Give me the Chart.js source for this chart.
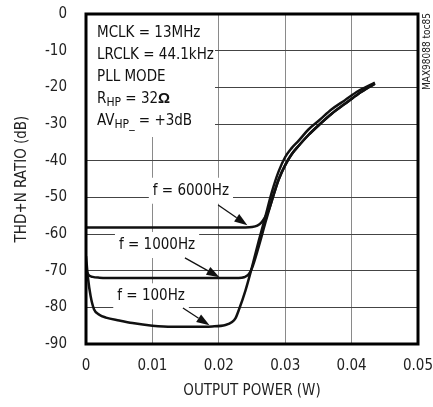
<!DOCTYPE html>
<html>
<head>
<meta charset="utf-8">
<script src="https://cdn.jsdelivr.net/npm/chart.js@4.4.1/dist/chart.umd.min.js"></script>
<style>
html, body { margin: 0; padding: 0; background: #fff; }
#wrap { width: 433px; height: 407px; }
</style>
</head>
<body>
<div id="wrap"><canvas id="chart" width="433" height="407"></canvas></div>
<script>
// THD+N RATIO vs OUTPUT POWER (MAX98088 toc85)

const FONT = '"DejaVu Sans Condensed", "Liberation Sans", sans-serif';

// axis ranges
const xRange = [0, 0.05];
const yRange = [-90, 0];
const xStep = 0.01;
const yStep = 10;

// f = 100Hz
const f100X = [0, 0.0003, 0.0007, 0.0012, 0.002, 0.003, 0.005, 0.007, 0.01, 0.013, 0.016, 0.019, 0.021, 0.022, 0.0225, 0.023, 0.024, 0.025, 0.026, 0.027, 0.028, 0.029, 0.030, 0.031, 0.032, 0.0335, 0.035, 0.037, 0.039, 0.041, 0.0435];
const f100Y = [-66, -72, -77, -80.5, -82, -82.8, -83.6, -84.3, -85, -85.3, -85.3, -85.2, -84.8, -84, -83, -80.8, -75.5, -69, -62, -55.3, -48.5, -43, -39, -36.5, -34.6, -31.5, -29.2, -26, -23.5, -21, -18.7];

// f = 1000Hz
const f1000X = [0, 0.0004, 0.001, 0.002, 0.005, 0.01, 0.015, 0.02, 0.023, 0.0238, 0.0245, 0.025, 0.026, 0.027, 0.028, 0.029, 0.030, 0.031, 0.032, 0.0335, 0.035, 0.037, 0.039, 0.041, 0.0435];
const f1000Y = [-69.8, -71.2, -71.7, -71.9, -72, -72, -72, -72, -72, -71.8, -71, -69.3, -63.5, -57, -50.8, -45.2, -41.2, -38.2, -36, -33, -30.4, -27.2, -24.5, -21.8, -19];

// f = 6000Hz
const f6000X = [0, 0.005, 0.01, 0.015, 0.02, 0.024, 0.025, 0.0258, 0.0264, 0.0269, 0.0275, 0.028, 0.029, 0.030, 0.031, 0.032, 0.0335, 0.035, 0.037, 0.039, 0.041, 0.0435];
const f6000Y = [-58.2, -58.2, -58.2, -58.2, -58.2, -58.2, -58.1, -57.7, -56.9, -55.6, -53.6, -50.8, -45.2, -41.2, -38.2, -36, -33, -30.4, -27.2, -24.5, -21.8, -19];

// curve labels: text, label centre, arrow tail, arrow head (data units)
const labelText = ['f = 6000Hz', 'f = 1000Hz', 'f = 100Hz'];
const labelAt = [[0.0158, -48.2], [0.0107, -63], [0.0098, -77]];
const arrowFrom = [[0.0199, -52.1], [0.0149, -66.5], [0.0146, -80.2]];
const arrowTo = [[0.0243, -57.6], [0.0201, -71.8], [0.0186, -84.9]];

// condition notes (segments: n = normal, s = subscript, b = bold)
const noteLines = [
    [['MCLK = 13MHz', 'n']],
    [['LRCLK = 44.1kHz', 'n']],
    [['PLL MODE', 'n']],
    [['R', 'n'], ['HP', 's'], [' = 32', 'n'], ['\u03A9', 'b']],
    [['AV', 'n'], ['HP_', 's'], [' = +3dB', 'n']]
];

function toPoints(xs, ys) {
    return xs.map((x, i) => ({ x: x, y: ys[i] }));
}

function drawArrow(ctx, x1, y1, x2, y2) {
    const ang = Math.atan2(y2 - y1, x2 - x1);
    const len = 13, half = 4.5;
    const bx = x2 - len * Math.cos(ang), by = y2 - len * Math.sin(ang);
    ctx.beginPath();
    ctx.moveTo(x1, y1);
    ctx.lineTo(bx, by);
    ctx.lineWidth = 1.3;
    ctx.stroke();
    ctx.beginPath();
    ctx.moveTo(x2, y2);
    ctx.lineTo(bx + half * Math.sin(ang), by - half * Math.cos(ang));
    ctx.lineTo(bx - half * Math.sin(ang), by + half * Math.cos(ang));
    ctx.closePath();
    ctx.fill();
}

const annotations = {
    id: 'annotations',
    beforeDatasetsDraw(chart) {
        const ctx = chart.ctx, a = chart.chartArea;
        const xs = chart.scales.x, ys = chart.scales.y;
        ctx.save();
        ctx.fillStyle = '#fff';
        // blank area behind the notes
        ctx.fillRect(a.left, a.top, 129, 123);
        // blank area behind curve labels
        ctx.font = '15px ' + FONT;
        labelText.forEach((t, i) => {
            const w = ctx.measureText(t).width;
            const cx = xs.getPixelForValue(labelAt[i][0]);
            const cy = ys.getPixelForValue(labelAt[i][1]);
            ctx.fillRect(cx - w / 2 - 4, cy - 13, w + 8, 26);
        });
        ctx.restore();
    },
    afterDatasetsDraw(chart) {
        const ctx = chart.ctx, a = chart.chartArea;
        const xs = chart.scales.x, ys = chart.scales.y;
        ctx.save();
        ctx.fillStyle = '#111';
        ctx.strokeStyle = '#111';
        ctx.textBaseline = 'middle';

        // notes
        noteLines.forEach((segs, i) => {
            let x = a.left + 11;
            const y = a.top + 19 + i * 22;
            segs.forEach(([t, kind]) => {
                let dy = 0;
                if (kind === 's') { ctx.font = '12px ' + FONT; dy = 4; }
                else if (kind === 'b') { ctx.font = 'bold 15px "Liberation Sans", sans-serif'; }
                else { ctx.font = '15px ' + FONT; }
                ctx.textAlign = 'left';
                ctx.fillText(t, x, y + dy);
                x += ctx.measureText(t).width;
            });
        });

        // curve labels + arrows
        ctx.font = '15px ' + FONT;
        ctx.textAlign = 'center';
        labelText.forEach((t, i) => {
            ctx.fillText(t, xs.getPixelForValue(labelAt[i][0]), ys.getPixelForValue(labelAt[i][1]));
            drawArrow(ctx,
                xs.getPixelForValue(arrowFrom[i][0]), ys.getPixelForValue(arrowFrom[i][1]),
                xs.getPixelForValue(arrowTo[i][0]), ys.getPixelForValue(arrowTo[i][1]));
        });

        // frame
        ctx.lineWidth = 3;
        ctx.strokeStyle = '#000';
        ctx.strokeRect(a.left, a.top, a.right - a.left, a.bottom - a.top);

        // figure id on the right
        ctx.translate(chart.width - 6, a.top - 1);
        ctx.rotate(-Math.PI / 2);
        ctx.font = '10px ' + FONT;
        ctx.textAlign = 'right';
        ctx.fillStyle = '#222';
        ctx.fillText('MAX98088 toc85', 0, 0);
        ctx.restore();
    }
};

const lineStyle = {
    borderColor: '#111',
    borderWidth: 2.5,
    pointRadius: 0,
    fill: false,
    cubicInterpolationMode: 'monotone'
};

new Chart(document.getElementById('chart'), {
    type: 'line',
    data: {
        datasets: [
            Object.assign({ label: 'f = 100Hz', data: toPoints(f100X, f100Y) }, lineStyle),
            Object.assign({ label: 'f = 1000Hz', data: toPoints(f1000X, f1000Y) }, lineStyle),
            Object.assign({ label: 'f = 6000Hz', data: toPoints(f6000X, f6000Y) }, lineStyle)
        ]
    },
    options: {
        responsive: false,
        animation: false,
        events: [],
        layout: { padding: { left: 0, right: 15, top: 14, bottom: 0 } },
        plugins: {
            legend: { display: false },
            tooltip: { enabled: false }
        },
        scales: {
            x: {
                type: 'linear',
                min: xRange[0],
                max: xRange[1],
                afterFit: (s) => { s.height = 63; s.paddingLeft = 0; s.paddingRight = 0; },
                border: { display: false },
                grid: { color: '#8a8a8a', lineWidth: 1, drawTicks: false },
                ticks: {
                    stepSize: xStep,
                    padding: 13,
                    color: '#222',
                    font: { family: FONT, size: 15 },
                    maxRotation: 0,
                    callback: (v) => v === 0 ? '0' : v.toFixed(2)
                },
                title: {
                    display: true,
                    text: 'OUTPUT POWER (W)',
                    color: '#222',
                    font: { family: FONT, size: 15 },
                    padding: { top: 0, bottom: 7 }
                }
            },
            y: {
                type: 'linear',
                min: yRange[0],
                max: yRange[1],
                afterFit: (s) => { s.width = 86; s.paddingTop = 0; s.paddingBottom = 0; },
                border: { display: false },
                grid: { color: '#444', lineWidth: 1, drawTicks: false },
                ticks: {
                    stepSize: yStep,
                    padding: 19,
                    color: '#222',
                    font: { family: FONT, size: 15 }
                },
                title: {
                    display: true,
                    text: 'THD+N RATIO (dB)',
                    color: '#222',
                    font: { family: FONT, size: 15 },
                    padding: { top: 13, bottom: 0 }
                }
            }
        }
    },
    plugins: [annotations]
});
</script>
</body>
</html>
